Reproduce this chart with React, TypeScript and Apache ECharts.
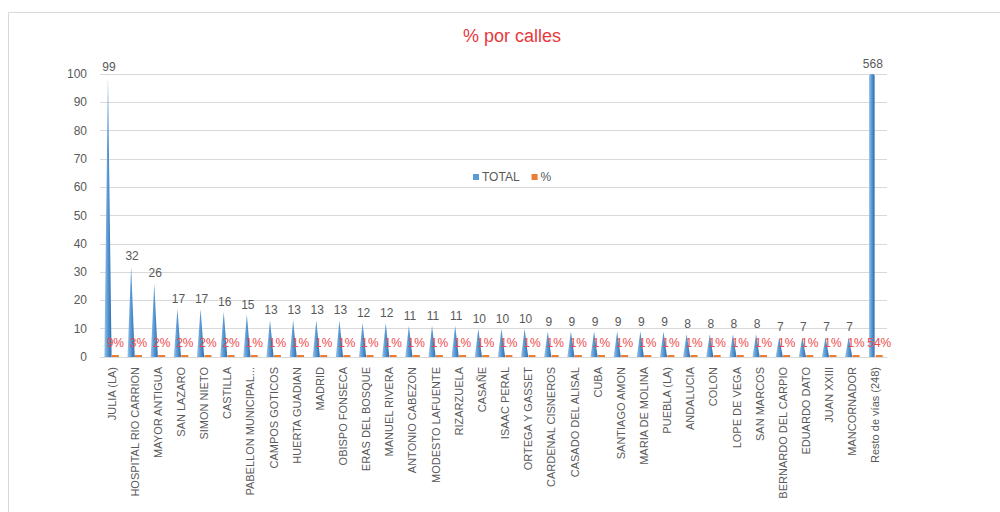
import React, { useEffect, useRef } from "react";
import * as echarts from "echarts";

const categories = [
  "JULIA (LA)",
  "HOSPITAL RIO CARRION",
  "MAYOR ANTIGUA",
  "SAN LAZARO",
  "SIMON NIETO",
  "CASTILLA",
  "PABELLON MUNICIPAL...",
  "CAMPOS GOTICOS",
  "HUERTA GUADIAN",
  "MADRID",
  "OBISPO FONSECA",
  "ERAS DEL BOSQUE",
  "MANUEL RIVERA",
  "ANTONIO CABEZON",
  "MODESTO LAFUENTE",
  "RIZARZUELA",
  "CASAÑE",
  "ISAAC PERAL",
  "ORTEGA Y GASSET",
  "CARDENAL CISNEROS",
  "CASADO DEL ALISAL",
  "CUBA",
  "SANTIAGO AMON",
  "MARIA DE MOLINA",
  "PUEBLA (LA)",
  "ANDALUCIA",
  "COLON",
  "LOPE DE VEGA",
  "SAN MARCOS",
  "BERNARDO DEL CARPIO",
  "EDUARDO DATO",
  "JUAN XXIII",
  "MANCORNADOR",
  "Resto de vías (248)",
];

const totals = [
  99, 32, 26, 17, 17, 16, 15, 13, 13, 13, 13, 12, 12, 11, 11, 11, 10, 10, 10,
  9, 9, 9, 9, 9, 9, 8, 8, 8, 8, 7, 7, 7, 7, 568,
];

const percents = [
  0.09, 0.03, 0.02, 0.02, 0.02, 0.02, 0.01, 0.01, 0.01, 0.01, 0.01, 0.01, 0.01,
  0.01, 0.01, 0.01, 0.01, 0.01, 0.01, 0.01, 0.01, 0.01, 0.01, 0.01, 0.01, 0.01,
  0.01, 0.01, 0.01, 0.01, 0.01, 0.01, 0.01, 0.54,
];

const yTicks = { min: 0, max: 100, interval: 10 };

const FONT = "'Liberation Sans Narrow', 'Arial Narrow', 'Liberation Sans', sans-serif";
const GRAY = "#595959";
const BLUE = "#5B9BD5";
const ORANGE = "#ED7D31";
const RED = "#EE4B4B";

export default function App() {
  const ref = useRef<HTMLDivElement>(null);

  useEffect(() => {
    const chart = echarts.init(ref.current as HTMLDivElement, null, { renderer: "svg" });

    const coneGradient = () =>
      new echarts.graphic.LinearGradient(0, 0, 1, 0, [
        { offset: 0, color: "#9CC4EC" },
        { offset: 0.45, color: "#5B9BD5" },
        { offset: 1, color: "#2E6DAE" },
      ]);

    const option = {
      animation: false,
      backgroundColor: "#ffffff",
      title: {
        text: "% por calles",
        left: 507,
        top: 22,
        textAlign: "center",
        textStyle: {
          color: "#E8383D",
          fontSize: 18,
          fontWeight: "normal",
          fontFamily: "'Liberation Sans', sans-serif",
        },
      },
      legend: {
        left: 468,
        top: 166,
        itemWidth: 6,
        itemHeight: 6,
        itemGap: 12,
        icon: "rect",
        data: ["TOTAL", "%"],
        textStyle: { color: GRAY, fontSize: 12, fontFamily: FONT, padding: [0, 0, 0, -2] },
      },
      graphic: [
        {
          type: "rect",
          left: 6,
          top: 10,
          shape: { width: 1200, height: 800 },
          style: { fill: "none", stroke: "#D9D9D9", lineWidth: 1 },
          silent: true,
          z: -10,
        },
      ],
      grid: { left: 100, right: 113, top: 74, bottom: 155, containLabel: false },
      xAxis: {
        type: "category",
        data: categories,
        axisLine: { show: true, lineStyle: { color: "#D9D9D9" } },
        axisTick: { show: false },
        axisLabel: {
          interval: 0,
          rotate: 90,
          margin: 10,
          color: GRAY,
          fontSize: 11,
          fontFamily: FONT,
        },
      },
      yAxis: {
        type: "value",
        min: yTicks.min,
        max: yTicks.max,
        interval: yTicks.interval,
        axisLine: { show: false },
        axisTick: { show: false },
        splitLine: { lineStyle: { color: "#D9D9D9" } },
        axisLabel: {
          color: GRAY,
          fontSize: 12,
          margin: 13,
          padding: [10, 0, 0, 0],
          fontFamily: "'Liberation Sans', sans-serif",
        },
      },
      series: [
        {
          name: "TOTAL",
          type: "custom",
          itemStyle: { color: BLUE },
          data: totals.map((v, i) => [i, v]),
          encode: { x: 0, y: 1 },
          renderItem: (params: any, api: any) => {
            const idx = api.value(0);
            const val = api.value(1);
            const base = api.coord([idx, 0]);
            const shown = Math.min(val, yTicks.max);
            const top = api.coord([idx, shown]);
            const cx = base[0] - 3.6;
            const children: any[] = [];
            if (val > yTicks.max) {
              children.push({
                type: "rect",
                shape: { x: cx - 2.8, y: top[1], width: 5.6, height: base[1] - top[1], r: [2, 2, 0, 0] },
                style: { fill: coneGradient() },
              });
            } else {
              children.push({
                type: "polygon",
                shape: {
                  points: [
                    [cx - 3.6, base[1]],
                    [cx, top[1]],
                    [cx + 3.6, base[1]],
                  ],
                },
                style: { fill: coneGradient() },
              });
            }
            children.push({
              type: "text",
              style: {
                text: String(val),
                x: cx + 1,
                y: top[1] - 4,
                align: "center",
                verticalAlign: "bottom",
                fill: GRAY,
                fontSize: 12,
                fontFamily: "'Liberation Sans', sans-serif",
              },
            });
            return { type: "group", children };
          },
        },
        {
          name: "%",
          type: "custom",
          itemStyle: { color: ORANGE },
          data: percents.map((v, i) => [i, v]),
          encode: { x: 0, y: 1 },
          z: 3,
          renderItem: (params: any, api: any) => {
            const idx = api.value(0);
            const val = api.value(1);
            const base = api.coord([idx, 0]);
            const top = api.coord([idx, val]);
            const cx = base[0] + 3.8;
            const h = Math.max(base[1] - top[1], 2);
            return {
              type: "group",
              children: [
                {
                  type: "rect",
                  shape: { x: cx - 3.5, y: base[1] - h, width: 7, height: h },
                  style: { fill: ORANGE },
                },
                {
                  type: "text",
                  style: {
                    text: Math.round(val * 100) + "%",
                    x: cx,
                    y: base[1] - 14,
                    align: "center",
                    verticalAlign: "middle",
                    fill: RED,
                    fontSize: 12,
                    fontFamily: "'Liberation Sans', sans-serif",
                  },
                },
              ],
            };
          },
        },
      ],
    };

    chart.setOption(option as any);
    return () => chart.dispose();
  }, []);

  return (
    <div
      ref={ref}
      style={{ position: "fixed", left: 0, top: 0, width: 1000, height: 512 }}
    />
  );
}
